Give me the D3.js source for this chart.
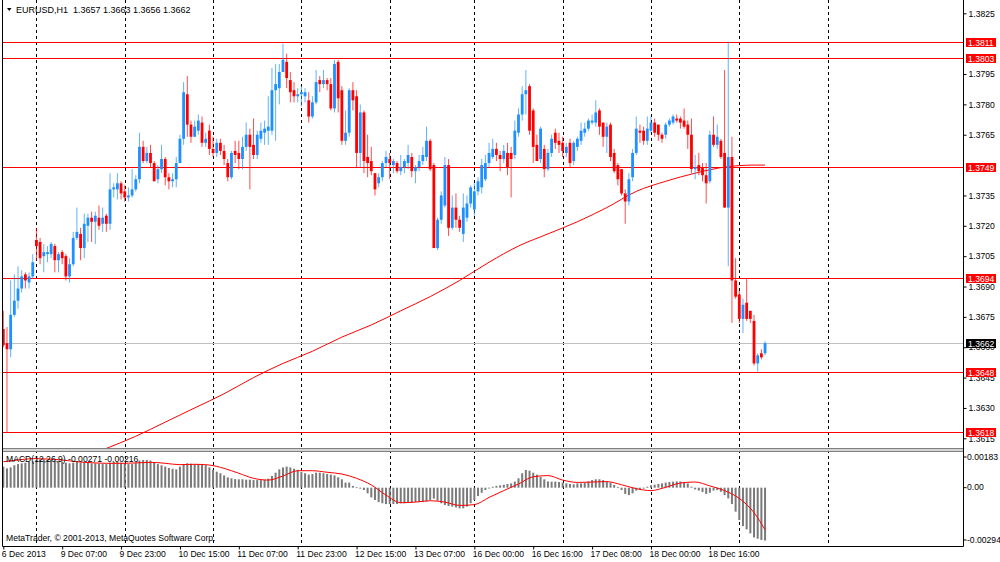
<!DOCTYPE html>
<html>
<head>
<meta charset="utf-8">
<script src="https://cdn.jsdelivr.net/npm/d3@7"></script>
<style>
  body { margin: 0; background: #fff; }
</style>
</head>
<body>
<div id="chart"></div>
<script>
// EURUSD H1 candles, bar 0 = 6 Dec 2013 15:00
var opens = [
  1.3669,1.3662,1.3659,1.3676,1.3683,1.3689,1.3696,1.3692,1.3695,1.3713,
  1.3712,1.3705,1.3706,1.3706,1.3710,1.3703,1.3707,1.3705,1.3695,1.3701,
  1.3714,1.3716,1.3709,1.3720,1.3724,1.3722,1.3724,1.3721,1.3725,1.3721,
  1.3738,1.3738,1.3741,1.3737,1.3734,1.3735,1.3738,1.3743,1.3759,1.3752,
  1.3756,1.3751,1.3743,1.3748,1.3753,1.3744,1.3742,1.3743,1.3751,1.3763,
  1.3785,1.3770,1.3764,1.3767,1.3771,1.3761,1.3767,1.3758,1.3756,1.3761,
  1.3757,1.3751,1.3744,1.3757,1.3756,1.3753,1.3759,1.3765,1.3760,1.3755,
  1.3763,1.3766,1.3767,1.3767,1.3787,1.3788,1.3796,1.3801,1.3792,1.3787,
  1.3784,1.3785,1.3784,1.3782,1.3774,1.3781,1.3792,1.3790,1.3792,1.3790,
  1.3778,1.3801,1.3787,1.3762,1.3766,1.3787,1.3784,1.3756,1.3776,1.3754,
  1.3752,1.3746,1.3741,1.3744,1.3751,1.3753,1.3750,1.3751,1.3747,1.3749,
  1.3751,1.3754,1.3747,1.3749,1.3752,1.3754,1.3762,1.3750,1.3709,1.3723,
  1.3730,1.3750,1.3719,1.3729,1.3723,1.3716,1.3724,1.3731,1.3728,1.3737,
  1.3739,1.3743,1.3751,1.3754,1.3758,1.3755,1.3753,1.3756,1.3756,1.3755,
  1.3766,1.3775,1.3785,1.3789,1.3777,1.3760,1.3753,1.3758,1.3748,1.3756,
  1.3766,1.3762,1.3761,1.3756,1.3761,1.3752,1.3759,1.3762,1.3766,1.3768,
  1.3771,1.3771,1.3777,1.3771,1.3764,1.3770,1.3756,1.3750,1.3748,1.3736,
  1.3732,1.3744,1.3756,1.3767,1.3767,1.3762,1.3767,1.3771,1.3770,1.3765,
  1.3765,1.3770,1.3771,1.3773,1.3773,1.3772,1.3770,1.3765,1.3748,1.3750,
  1.3749,1.3745,1.3742,1.3765,1.3760,1.3762,1.3756,1.3729,1.3754,1.3693,
  1.3686,1.3674,1.3682,1.3678,1.3673,1.3652,1.3657,1.3657
];
var highs = [
  1.3678,1.3670,1.3693,1.3696,1.3700,1.3698,1.3697,1.3697,1.3706,1.3719,
  1.3714,1.3711,1.3710,1.3712,1.3711,1.3707,1.3708,1.3706,1.3704,1.3717,
  1.3729,1.3719,1.3726,1.3726,1.3727,1.3727,1.3730,1.3729,1.3726,1.3746,
  1.3741,1.3746,1.3742,1.3740,1.3739,1.3748,1.3745,1.3766,1.3762,1.3759,
  1.3760,1.3752,1.3750,1.3760,1.3754,1.3746,1.3746,1.3754,1.3765,1.3791,
  1.3794,1.3772,1.3772,1.3775,1.3774,1.3766,1.3770,1.3764,1.3763,1.3763,
  1.3760,1.3753,1.3757,1.3762,1.3762,1.3764,1.3771,1.3768,1.3773,1.3767,
  1.3771,1.3772,1.3784,1.3798,1.3800,1.3800,1.3810,1.3805,1.3796,1.3791,
  1.3788,1.3789,1.3788,1.3786,1.3784,1.3797,1.3794,1.3797,1.3793,1.3793,
  1.3802,1.3802,1.3789,1.3777,1.3788,1.3791,1.3787,1.3780,1.3777,1.3765,
  1.3759,1.3746,1.3746,1.3752,1.3757,1.3756,1.3753,1.3752,1.3755,1.3753,
  1.3760,1.3756,1.3750,1.3755,1.3759,1.3769,1.3763,1.3751,1.3724,1.3737,
  1.3754,1.3753,1.3735,1.3736,1.3725,1.3736,1.3735,1.3740,1.3741,1.3744,
  1.3753,1.3755,1.3761,1.3763,1.3761,1.3757,1.3760,1.3761,1.3759,1.3772,
  1.3778,1.3789,1.3797,1.3790,1.3778,1.3765,1.3769,1.3760,1.3758,1.3765,
  1.3768,1.3766,1.3764,1.3761,1.3763,1.3762,1.3764,1.3771,1.3771,1.3773,
  1.3775,1.3782,1.3778,1.3771,1.3771,1.3771,1.3758,1.3751,1.3748,1.3738,
  1.3746,1.3758,1.3774,1.3770,1.3769,1.3774,1.3774,1.3773,1.3770,1.3766,
  1.3771,1.3773,1.3775,1.3775,1.3774,1.3778,1.3772,1.3773,1.3755,1.3756,
  1.3751,1.3751,1.3767,1.3774,1.3770,1.3763,1.3797,1.3811,1.3764,1.3704,
  1.3688,1.3684,1.3694,1.3678,1.3676,1.3657,1.3659,1.3663
];
var lows = [
  1.3660,1.3618,1.3655,1.3675,1.3679,1.3687,1.3689,1.3689,1.3694,1.3703,
  1.3701,1.3697,1.3702,1.3704,1.3697,1.3697,1.3701,1.3693,1.3692,1.3700,
  1.3713,1.3703,1.3704,1.3712,1.3712,1.3711,1.3718,1.3717,1.3717,1.3718,
  1.3734,1.3733,1.3733,1.3732,1.3732,1.3734,1.3737,1.3741,1.3751,1.3751,
  1.3749,1.3742,1.3741,1.3746,1.3740,1.3738,1.3739,1.3739,1.3751,1.3760,
  1.3764,1.3761,1.3764,1.3765,1.3759,1.3759,1.3755,1.3754,1.3754,1.3755,
  1.3750,1.3742,1.3743,1.3751,1.3748,1.3748,1.3757,1.3738,1.3753,1.3753,
  1.3761,1.3760,1.3760,1.3765,1.3762,1.3780,1.3796,1.3788,1.3781,1.3781,
  1.3781,1.3779,1.3781,1.3771,1.3773,1.3780,1.3786,1.3788,1.3787,1.3777,
  1.3776,1.3776,1.3760,1.3760,1.3764,1.3777,1.3749,1.3749,1.3746,1.3744,
  1.3745,1.3735,1.3739,1.3742,1.3749,1.3743,1.3746,1.3746,1.3745,1.3746,
  1.3748,1.3744,1.3741,1.3747,1.3750,1.3752,1.3747,1.3709,1.3708,1.3721,
  1.3729,1.3715,1.3718,1.3719,1.3717,1.3712,1.3722,1.3729,1.3725,1.3735,
  1.3736,1.3742,1.3749,1.3753,1.3752,1.3747,1.3751,1.3745,1.3734,1.3753,
  1.3764,1.3772,1.3775,1.3765,1.3751,1.3752,1.3751,1.3744,1.3747,1.3754,
  1.3758,1.3756,1.3754,1.3754,1.3749,1.3750,1.3757,1.3760,1.3764,1.3767,
  1.3770,1.3769,1.3765,1.3759,1.3756,1.3752,1.3746,1.3740,1.3735,1.3721,
  1.3730,1.3742,1.3755,1.3761,1.3760,1.3760,1.3766,1.3764,1.3762,1.3761,
  1.3763,1.3769,1.3770,1.3771,1.3768,1.3768,1.3758,1.3746,1.3743,1.3745,
  1.3742,1.3731,1.3741,1.3759,1.3758,1.3753,1.3729,1.3700,1.3672,1.3684,
  1.3672,1.3667,1.3673,1.3672,1.3651,1.3648,1.3654,1.3656
];
var closes = [
  1.3661,1.3659,1.3676,1.3683,1.3689,1.3695,1.3693,1.3695,1.3702,1.3710,
  1.3704,1.3707,1.3707,1.3711,1.3703,1.3706,1.3704,1.3695,1.3701,1.3714,
  1.3717,1.3709,1.3721,1.3724,1.3722,1.3725,1.3720,1.3724,1.3721,1.3738,
  1.3739,1.3741,1.3736,1.3734,1.3735,1.3738,1.3743,1.3759,1.3752,1.3756,
  1.3751,1.3742,1.3748,1.3753,1.3744,1.3742,1.3743,1.3751,1.3763,1.3786,
  1.3770,1.3764,1.3769,1.3772,1.3761,1.3763,1.3758,1.3756,1.3761,1.3757,
  1.3753,1.3744,1.3756,1.3755,1.3753,1.3759,1.3765,1.3759,1.3755,1.3765,
  1.3767,1.3768,1.3769,1.3787,1.3790,1.3796,1.3802,1.3793,1.3786,1.3784,
  1.3785,1.3786,1.3786,1.3774,1.3781,1.3791,1.3790,1.3792,1.3790,1.3778,
  1.3800,1.3783,1.3762,1.3766,1.3787,1.3782,1.3756,1.3776,1.3752,1.3751,
  1.3747,1.3738,1.3744,1.3751,1.3754,1.3751,1.3752,1.3747,1.3749,1.3752,
  1.3755,1.3747,1.3749,1.3752,1.3755,1.3762,1.3748,1.3709,1.3723,1.3735,
  1.3750,1.3719,1.3729,1.3723,1.3719,1.3729,1.3731,1.3739,1.3737,1.3742,
  1.3750,1.3751,1.3756,1.3758,1.3755,1.3753,1.3757,1.3749,1.3753,1.3767,
  1.3775,1.3785,1.3787,1.3767,1.3759,1.3752,1.3768,1.3748,1.3756,1.3763,
  1.3761,1.3760,1.3757,1.3759,1.3751,1.3761,1.3763,1.3767,1.3768,1.3772,
  1.3772,1.3776,1.3769,1.3764,1.3769,1.3754,1.3747,1.3743,1.3736,1.3732,
  1.3743,1.3756,1.3768,1.3766,1.3762,1.3768,1.3771,1.3766,1.3765,1.3763,
  1.3770,1.3772,1.3774,1.3772,1.3771,1.3769,1.3765,1.3748,1.3749,1.3747,
  1.3745,1.3741,1.3765,1.3760,1.3764,1.3754,1.3729,1.3754,1.3693,1.3685,
  1.3674,1.3681,1.3674,1.3674,1.3652,1.3656,1.3655,1.3662
];

// moving average, read every 8 bars
var maIdx = [28,36,44,52,60,68,76,84,92,100,108,116,124,132,140,148,156,164,172,180,188,196,204,207];
var maVal = [1.3610,1.3616,1.3623,1.3630,1.3637,1.3645,1.3652,1.3658,1.3665,1.3671,1.3678,1.3685,
             1.3693,1.3702,1.3710,1.3716,1.3722,1.3729,1.3737,1.3742,1.3746,1.3749,1.3750,1.3750];

// MACD(12,26,9) main values, one per bar
var macdVal = [
  0.00108,0.00099,0.00104,0.00115,0.00121,0.00125,0.00128,0.00132,0.00135,0.00142,
  0.00145,0.00145,0.00144,0.00142,0.00139,0.00137,0.00133,0.00128,0.00125,0.00128,
  0.00132,0.00128,0.00130,0.00128,0.00125,0.00125,0.00123,0.00121,0.00121,0.00128,
  0.00132,0.00132,0.00128,0.00125,0.00121,0.00121,0.00128,0.00139,0.00142,0.00142,
  0.00139,0.00132,0.00121,0.00115,0.00108,0.00101,0.00097,0.00094,0.00108,0.00121,
  0.00125,0.00123,0.00121,0.00121,0.00118,0.00115,0.00104,0.00091,0.00082,0.00074,
  0.00063,0.00053,0.00048,0.00044,0.00043,0.00043,0.00041,0.00041,0.00039,0.00039,
  0.00039,0.00041,0.00046,0.00060,0.00077,0.00094,0.00104,0.00108,0.00104,0.00097,
  0.00091,0.00080,0.00074,0.00067,0.00070,0.00077,0.00077,0.00074,0.00070,0.00067,
  0.00063,0.00053,0.00043,0.00026,0.00026,0.00009,0.00002,-0.00005,-0.00012,-0.00029,
  -0.00050,-0.00063,-0.00074,-0.00080,-0.00084,-0.00084,-0.00084,-0.00084,-0.00080,-0.00080,
  -0.00077,-0.00077,-0.00074,-0.00074,-0.00074,-0.00070,-0.00063,-0.00056,-0.00067,-0.00080,
  -0.00089,-0.00094,-0.00097,-0.00101,-0.00106,-0.00106,-0.00097,-0.00080,-0.00063,-0.00043,
  -0.00026,-0.00012,-0.00002,0.00005,0.00009,0.00012,0.00015,0.00019,0.00022,0.00031,
  0.00048,0.00074,0.00091,0.00087,0.00077,0.00067,0.00056,0.00043,0.00032,0.00031,
  0.00031,0.00029,0.00026,0.00022,0.00019,0.00017,0.00022,0.00022,0.00026,0.00032,
  0.00039,0.00043,0.00043,0.00039,0.00032,0.00026,0.00014,0.00002,-0.00012,-0.00032,
  -0.00038,-0.00029,-0.00015,-0.00009,-0.00005,0.00005,0.00012,0.00015,0.00019,0.00022,
  0.00026,0.00029,0.00031,0.00032,0.00032,0.00029,0.00022,0.00005,-0.00009,-0.00015,
  -0.00022,-0.00032,-0.00026,-0.00015,-0.00012,-0.00021,-0.00038,-0.00055,-0.00084,-0.00123,
  -0.00166,-0.00197,-0.00214,-0.00234,-0.00255,-0.00262,-0.00268,-0.00271
];

// MACD signal line, read every 4 bars
var sigIdx = [0,4,8,12,16,20,24,28,32,36,40,44,48,52,56,60,64,68,72,76,80,84,88,92,96,100,
              104,108,112,116,120,124,128,132,136,140,144,148,152,156,160,164,168,172,176,180,
              184,188,192,196,200,204,207];
var sigVal = [0.00133,0.00142,0.00149,0.00147,0.00142,0.00133,0.00128,0.00125,0.00125,0.00127,
              0.00130,0.00125,0.00118,0.00120,0.00116,0.00099,0.00074,0.00048,0.00039,0.00060,
              0.00087,0.00087,0.00079,0.00070,0.00048,0.00014,-0.00038,-0.00077,-0.00074,-0.00067,
              -0.00074,-0.00091,-0.00087,-0.00050,-0.00015,0.00019,0.00056,0.00062,0.00039,0.00027,
              0.00029,0.00031,0.00015,-0.00005,-0.00015,0.00002,0.00024,0.00029,0.00009,-0.00015,
              -0.00055,-0.00128,-0.00216];

var levels = [1.3811, 1.3803, 1.3749, 1.3694, 1.3648, 1.3618];
var bid = 1.3662;
// price labels visible on the scale (1.3750 and 1.3810 sit under level tags)
var priceTicks = [1.3615,1.3630,1.3645,1.3660,1.3675,1.3690,1.3705,1.3720,1.3735,1.3765,1.3780,1.3795,1.3825];
var macdTicks = [0.00183, 0, -0.00294];
var timeIdx = [0,16,32,48,64,80,96,112,128,144,160,176,192];
var timeLabels = ["6 Dec 2013","9 Dec 07:00","9 Dec 23:00","10 Dec 15:00","11 Dec 07:00","11 Dec 23:00",
                  "12 Dec 15:00","13 Dec 07:00","16 Dec 00:00","16 Dec 16:00","17 Dec 08:00",
                  "18 Dec 00:00","18 Dec 16:00"];
var dayIdx = [9,33,57,81,105,128,152,176,200,224];

var svgWidth = 1000, svgHeight = 562;
var plotLeft = 2.5, plotRight = 963.5;
var mainBottom = 448, macdTop = 452, macdBottom = 546.5;
var fontFamily = "'Liberation Sans', Arial, sans-serif";

var svg = d3.select("#chart")
  .append("svg")
  .attr("width", svgWidth)
  .attr("height", svgHeight)
  .style("font-family", fontFamily)
  .style("font-size", "8.6px");

var xScale = d3.scaleLinear().domain([0, 260]).range([3.3, 3.3 + 260 * 3.68]);
var yPrice = d3.scaleLinear().domain([1.3615, 1.3825]).range([438.3, 13.3]);
var yMacd = d3.scaleLinear().domain([-0.00294, 0.00183]).range([545, 452]);

var defs = svg.append("defs");
defs.append("clipPath").attr("id", "clipMain")
  .append("rect").attr("x", plotLeft).attr("y", 0)
  .attr("width", plotRight - plotLeft).attr("height", mainBottom);
defs.append("clipPath").attr("id", "clipMacd")
  .append("rect").attr("x", plotLeft).attr("y", macdTop)
  .attr("width", plotRight - plotLeft).attr("height", macdBottom - macdTop);

// day separators (both panes)
svg.append("g").selectAll("line")
  .data(dayIdx)
  .enter()
  .append("line")
  .attr("x1", d => Math.round(xScale(d)) + 0.5)
  .attr("x2", d => Math.round(xScale(d)) + 0.5)
  .attr("y1", 0)
  .attr("y2", macdBottom)
  .attr("stroke", "#000")
  .attr("stroke-dasharray", "3,3");

var mainGroup = svg.append("g").attr("clip-path", "url(#clipMain)");

// horizontal levels
mainGroup.selectAll(".level")
  .data(levels)
  .enter()
  .append("line")
  .attr("class", "level")
  .attr("x1", plotLeft).attr("x2", plotRight)
  .attr("y1", d => Math.round(yPrice(d)) + 0.5)
  .attr("y2", d => Math.round(yPrice(d)) + 0.5)
  .attr("stroke", "#ff0000");
mainGroup.append("line")
  .attr("x1", plotLeft).attr("x2", plotRight)
  .attr("y1", Math.round(yPrice(bid)) + 0.5)
  .attr("y2", Math.round(yPrice(bid)) + 0.5)
  .attr("stroke", "#c0c0c0");

// moving average
var maLine = d3.line()
  .x((d, i) => xScale(maIdx[i]))
  .y(d => yPrice(d))
  .curve(d3.curveMonotoneX);
mainGroup.append("path")
  .datum(maVal)
  .attr("d", maLine)
  .attr("fill", "none")
  .attr("stroke", "#ff0000")
  .attr("stroke-width", 1);

// candles
var bars = d3.range(closes.length);
var colorOf = i => closes[i] >= opens[i] ? "#1e90ff" : "#ff0000";

mainGroup.selectAll(".wick")
  .data(bars)
  .enter()
  .append("line")
  .attr("class", "wick")
  .attr("x1", i => xScale(i)).attr("x2", i => xScale(i))
  .attr("y1", i => yPrice(highs[i]))
  .attr("y2", i => yPrice(lows[i]))
  .attr("stroke", colorOf)
  .attr("stroke-opacity", 0.7)
  .attr("stroke-width", 1);

mainGroup.selectAll(".body")
  .data(bars)
  .enter()
  .append("rect")
  .attr("class", "body")
  .attr("x", i => xScale(i) - 1.4)
  .attr("width", 2.8)
  .attr("y", i => yPrice(Math.max(opens[i], closes[i])))
  .attr("height", i => Math.max(1, Math.abs(yPrice(opens[i]) - yPrice(closes[i]))))
  .attr("fill", colorOf);

// pane separator
svg.append("rect")
  .attr("x", plotLeft).attr("y", mainBottom)
  .attr("width", plotRight - plotLeft).attr("height", 3.5)
  .attr("fill", "#d4d4d4");
[mainBottom + 0.5, mainBottom + 3.5].forEach(function(y) {
  svg.append("line")
    .attr("x1", plotLeft).attr("x2", plotRight)
    .attr("y1", y).attr("y2", y)
    .attr("stroke", "#808080");
});

// MACD pane
var macdGroup = svg.append("g").attr("clip-path", "url(#clipMacd)");
macdGroup.selectAll(".hist")
  .data(macdVal)
  .enter()
  .append("rect")
  .attr("class", "hist")
  .attr("x", (d, i) => xScale(i) - 1)
  .attr("width", 2)
  .attr("y", d => yMacd(Math.max(0, d)))
  .attr("height", d => Math.max(0.8, Math.abs(yMacd(d) - yMacd(0))))
  .attr("fill", "#7a7a7a");

var sigLine = d3.line()
  .x((d, i) => xScale(sigIdx[i]))
  .y(d => yMacd(d))
  .curve(d3.curveMonotoneX);
macdGroup.append("path")
  .datum(sigVal)
  .attr("d", sigLine)
  .attr("fill", "none")
  .attr("stroke", "#ff0000")
  .attr("stroke-width", 1);

// texts inside panes
var title = svg.append("g");
title.append("path")
  .attr("d", "M7,8 L11.5,8 L9.25,11 Z")
  .attr("fill", "#000");
title.append("text")
  .attr("x", 16).attr("y", 12.5)
  .attr("fill", "#000")
  .style("font-size", "9px")
  .style("white-space", "pre")
  .text("EURUSD,H1  1.3657 1.3663 1.3656 1.3662");

svg.append("text")
  .attr("x", 6).attr("y", 462)
  .attr("fill", "#000")
  .text("MACD(12,26,9) -0.00271 -0.00216");

svg.append("text")
  .attr("x", 6).attr("y", 541)
  .attr("fill", "#000")
  .text("MetaTrader, \u00a9 2001-2013, MetaQuotes Software Corp.");

// frame
svg.append("line").attr("x1", plotLeft).attr("x2", plotLeft).attr("y1", 0).attr("y2", macdBottom).attr("stroke", "#000");
svg.append("line").attr("x1", plotRight).attr("x2", plotRight).attr("y1", 0).attr("y2", macdBottom).attr("stroke", "#000");
svg.append("line").attr("x1", plotLeft).attr("x2", plotRight).attr("y1", macdBottom).attr("y2", macdBottom).attr("stroke", "#000");

// price axis
var priceAxis = d3.axisRight(yPrice)
  .tickValues(priceTicks)
  .tickFormat(d3.format(".4f"))
  .tickSize(3)
  .tickPadding(2);
var pa = svg.append("g")
  .attr("transform", `translate(${plotRight}, 0)`)
  .call(priceAxis);
pa.select(".domain").remove();
pa.attr("font-size", null).attr("font-family", null);
pa.selectAll("text").attr("fill", "#000");

// MACD axis labels
var ma = svg.append("g").attr("transform", `translate(${plotRight}, 0)`);
ma.selectAll("g")
  .data(macdTicks)
  .enter()
  .append("g")
  .attr("transform", d => `translate(0, ${Math.min(540, Math.max(457, yMacd(d)))})`)
  .each(function(d) {
    var g = d3.select(this);
    g.append("line").attr("x1", 0).attr("x2", 3).attr("stroke", "#000");
    g.append("text").attr("x", 3.5).attr("dy", "0.32em").attr("fill", "#000")
      .text(d === 0 ? "0.00" : d3.format(".5f")(d).replace("\u2212", "-"));
  });

// time axis
var timeAxis = d3.axisBottom(xScale)
  .tickValues(timeIdx)
  .tickFormat((d, i) => timeLabels[i])
  .tickSize(3)
  .tickPadding(1);
var ta = svg.append("g")
  .attr("transform", `translate(0, ${macdBottom})`)
  .call(timeAxis);
ta.select(".domain").remove();
ta.attr("font-size", null).attr("font-family", null);
ta.selectAll("text").attr("text-anchor", "start").attr("dx", "-2").attr("fill", "#000");

// level tags on the price scale
var tags = svg.append("g");
levels.forEach(function(v) {
  var y = Math.round(yPrice(v)) + 0.5;
  tags.append("rect").attr("x", 966).attr("y", y - 4.5).attr("width", 30).attr("height", 9).attr("fill", "#ff0000");
  tags.append("text").attr("x", 968).attr("y", y + 3.5).attr("fill", "#fff").text(d3.format(".4f")(v));
});
var by = Math.round(yPrice(bid)) + 0.5;
tags.append("rect").attr("x", 966).attr("y", by - 4.5).attr("width", 30).attr("height", 9).attr("fill", "#000");
tags.append("text").attr("x", 968).attr("y", by + 3.5).attr("fill", "#fff").text(d3.format(".4f")(bid));
</script>
</body>
</html>
